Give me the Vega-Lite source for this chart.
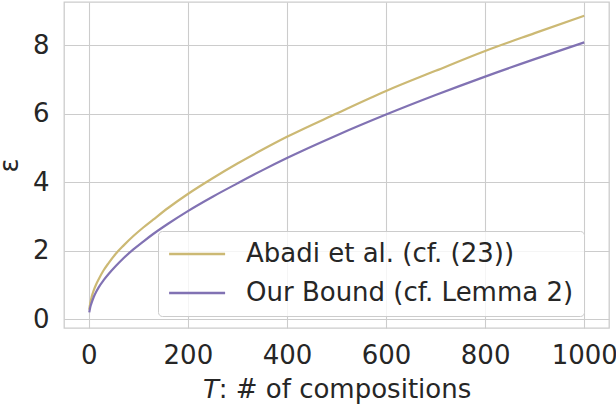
{
  "$schema": "https://vega.github.io/schema/vega-lite/v6.json",
  "width": 545,
  "height": 326,
  "autosize": {"type": "none"},
  "padding": {"left": 64, "top": 2, "right": 7, "bottom": 78},
  "background": "white",
  "config": {
    "font": "DejaVu Sans",
    "view": {"stroke": "#cccccc", "strokeWidth": 1.3},
    "axis": {
      "domain": false,
      "ticks": false,
      "grid": true,
      "gridColor": "#cccccc",
      "gridWidth": 1.1,
      "labelFont": "DejaVu Sans",
      "labelFontSize": 26,
      "labelColor": "#262626",
      "titleFont": "DejaVu Sans",
      "titleFontSize": 26,
      "titleFontWeight": "normal",
      "titleColor": "#262626"
    }
  },
  "data": {
    "values": [
      {"T": 1, "eps": 0.28, "method": "Abadi et al. (cf. (23))"},
      {"T": 3, "eps": 0.47, "method": "Abadi et al. (cf. (23))"},
      {"T": 6, "eps": 0.66, "method": "Abadi et al. (cf. (23))"},
      {"T": 10, "eps": 0.84, "method": "Abadi et al. (cf. (23))"},
      {"T": 15, "eps": 1.02, "method": "Abadi et al. (cf. (23))"},
      {"T": 20, "eps": 1.17, "method": "Abadi et al. (cf. (23))"},
      {"T": 30, "eps": 1.43, "method": "Abadi et al. (cf. (23))"},
      {"T": 40, "eps": 1.64, "method": "Abadi et al. (cf. (23))"},
      {"T": 55, "eps": 1.92, "method": "Abadi et al. (cf. (23))"},
      {"T": 70, "eps": 2.15, "method": "Abadi et al. (cf. (23))"},
      {"T": 90, "eps": 2.43, "method": "Abadi et al. (cf. (23))"},
      {"T": 110, "eps": 2.68, "method": "Abadi et al. (cf. (23))"},
      {"T": 130, "eps": 2.91, "method": "Abadi et al. (cf. (23))"},
      {"T": 160, "eps": 3.25, "method": "Abadi et al. (cf. (23))"},
      {"T": 200, "eps": 3.66, "method": "Abadi et al. (cf. (23))"},
      {"T": 250, "eps": 4.12, "method": "Abadi et al. (cf. (23))"},
      {"T": 300, "eps": 4.55, "method": "Abadi et al. (cf. (23))"},
      {"T": 350, "eps": 4.95, "method": "Abadi et al. (cf. (23))"},
      {"T": 400, "eps": 5.33, "method": "Abadi et al. (cf. (23))"},
      {"T": 500, "eps": 6.01, "method": "Abadi et al. (cf. (23))"},
      {"T": 600, "eps": 6.67, "method": "Abadi et al. (cf. (23))"},
      {"T": 700, "eps": 7.26, "method": "Abadi et al. (cf. (23))"},
      {"T": 800, "eps": 7.84, "method": "Abadi et al. (cf. (23))"},
      {"T": 900, "eps": 8.36, "method": "Abadi et al. (cf. (23))"},
      {"T": 1000, "eps": 8.87, "method": "Abadi et al. (cf. (23))"},
      {"T": 1, "eps": 0.2, "method": "Our Bound (cf. Lemma 2)"},
      {"T": 3, "eps": 0.35, "method": "Our Bound (cf. Lemma 2)"},
      {"T": 6, "eps": 0.49, "method": "Our Bound (cf. Lemma 2)"},
      {"T": 10, "eps": 0.65, "method": "Our Bound (cf. Lemma 2)"},
      {"T": 15, "eps": 0.8, "method": "Our Bound (cf. Lemma 2)"},
      {"T": 20, "eps": 0.93, "method": "Our Bound (cf. Lemma 2)"},
      {"T": 30, "eps": 1.14, "method": "Our Bound (cf. Lemma 2)"},
      {"T": 40, "eps": 1.32, "method": "Our Bound (cf. Lemma 2)"},
      {"T": 55, "eps": 1.56, "method": "Our Bound (cf. Lemma 2)"},
      {"T": 70, "eps": 1.78, "method": "Our Bound (cf. Lemma 2)"},
      {"T": 90, "eps": 2.04, "method": "Our Bound (cf. Lemma 2)"},
      {"T": 110, "eps": 2.27, "method": "Our Bound (cf. Lemma 2)"},
      {"T": 130, "eps": 2.49, "method": "Our Bound (cf. Lemma 2)"},
      {"T": 160, "eps": 2.79, "method": "Our Bound (cf. Lemma 2)"},
      {"T": 200, "eps": 3.16, "method": "Our Bound (cf. Lemma 2)"},
      {"T": 250, "eps": 3.58, "method": "Our Bound (cf. Lemma 2)"},
      {"T": 300, "eps": 3.97, "method": "Our Bound (cf. Lemma 2)"},
      {"T": 350, "eps": 4.35, "method": "Our Bound (cf. Lemma 2)"},
      {"T": 400, "eps": 4.71, "method": "Our Bound (cf. Lemma 2)"},
      {"T": 500, "eps": 5.37, "method": "Our Bound (cf. Lemma 2)"},
      {"T": 600, "eps": 5.98, "method": "Our Bound (cf. Lemma 2)"},
      {"T": 700, "eps": 6.55, "method": "Our Bound (cf. Lemma 2)"},
      {"T": 800, "eps": 7.09, "method": "Our Bound (cf. Lemma 2)"},
      {"T": 900, "eps": 7.6, "method": "Our Bound (cf. Lemma 2)"},
      {"T": 1000, "eps": 8.09, "method": "Our Bound (cf. Lemma 2)"}
    ]
  },
  "mark": {"type": "line", "strokeWidth": 2.2, "interpolate": "monotone", "clip": true},
  "encoding": {
    "x": {
      "field": "T",
      "type": "quantitative",
      "scale": {"domain": [-50, 1050], "nice": false, "zero": false},
      "axis": {"values": [0, 200, 400, 600, 800, 1000], "format": "d", "labelPadding": 14, "title": "𝘛: # of compositions", "titlePadding": 8, "labelFlush": false}
    },
    "y": {
      "field": "eps",
      "type": "quantitative",
      "scale": {"domain": [-0.257, 9.27], "nice": false, "zero": false},
      "axis": {"values": [0, 2, 4, 6, 8], "labelPadding": 15, "title": "ε", "titlePadding": 10}
    },
    "color": {
      "field": "method",
      "type": "nominal",
      "sort": ["Abadi et al. (cf. (23))", "Our Bound (cf. Lemma 2)"],
      "scale": {"domain": ["Abadi et al. (cf. (23))", "Our Bound (cf. Lemma 2)"], "range": ["#ccb974", "#8172b3"]},
      "legend": {
        "title": null,
        "orient": "none",
        "legendX": 94,
        "legendY": 229,
        "padding": 10,
        "cornerRadius": 4,
        "fillColor": "rgba(255,255,255,0.8)",
        "strokeColor": "#cccccc",
        "symbolType": "M-1.7,0H6.3",
        "symbolSize": 196,
        "symbolStrokeWidth": 2.5,
        "labelFont": "DejaVu Sans",
        "labelFontSize": 26,
        "labelColor": "#262626",
        "labelOffset": 52,
        "rowPadding": 13,
        "labelLimit": 500
      }
    }
  }
}
